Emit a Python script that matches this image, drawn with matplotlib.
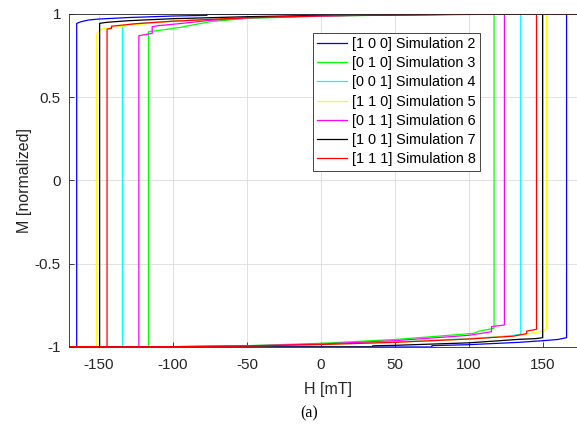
import matplotlib
matplotlib.use('Agg')
import matplotlib.pyplot as plt
from matplotlib.ticker import FormatStrFormatter

plt.rcParams['font.family'] = ['Liberation Sans', 'DejaVu Sans']
plt.rcParams['axes.unicode_minus'] = False

labels = ['[1 0 0] Simulation 2', '[0 1 0] Simulation 3', '[0 0 1] Simulation 4',
          '[1 1 0] Simulation 5', '[0 1 1] Simulation 6', '[1 0 1] Simulation 7',
          '[1 1 1] Simulation 8']
colors = ['#0000ff', '#00ff00', '#00ffff', '#ffff00', '#ff00ff', '#000000', '#ff0000']

# descending branch (H from +max down)
h_dn_100 = [180, -35, -77, -77, -100, -130, -150, -157, -162, -165, -165, -180]
m_dn_100 = [1.0, 0.998, 0.996, 0.990, 0.986, 0.977, 0.968, 0.962, 0.952, 0.942, -1.0, -1.0]
h_dn_010 = [180, 100, 50, 0, -50, -75, -95, -105, -116.5, -116.5, -180]
m_dn_010 = [1.0, 0.997, 0.992, 0.985, 0.972, 0.952, 0.918, 0.905, 0.892, -1.0, -1.0]
h_dn_001 = [180, 100, 50, 0, -50, -100, -120, -128, -134, -134, -180]
m_dn_001 = [1.0, 0.997, 0.994, 0.988, 0.978, 0.955, 0.943, 0.936, 0.922, -1.0, -1.0]
h_dn_110 = [180, 100, 50, 0, -50, -100, -130, -148, -151.5, -151.5, -180]
m_dn_110 = [1.0, 0.997, 0.994, 0.988, 0.976, 0.955, 0.930, 0.908, 0.882, -1.0, -1.0]
h_dn_011 = [180, 100, 50, 0, -50, -75, -96, -110, -114, -114, -123, -123, -180]
m_dn_011 = [1.0, 0.997, 0.993, 0.986, 0.975, 0.960, 0.940, 0.928, 0.922, 0.882, 0.868, -1.0, -1.0]
h_dn_101 = [180, 0, -50, -100, -130, -145, -149.5, -149.5, -180]
m_dn_101 = [1.0, 0.990, 0.982, 0.970, 0.958, 0.948, 0.942, -1.0, -1.0]
h_dn_111 = [180, 100, 50, 0, -50, -100, -125, -141.5, -141.5, -144.5, -144.5, -180]
m_dn_111 = [1.0, 0.997, 0.994, 0.987, 0.976, 0.955, 0.940, 0.925, 0.912, 0.908, -1.0, -1.0]

# ascending branch (H from -max up)
h_up_100 = [-180, 75, 75, 100, 134, 150, 160, 166, 166, 180]
m_up_100 = [-1.0, -1.0, -0.992, -0.986, -0.972, -0.962, -0.955, -0.944, 1.0, 1.0]
h_up_010 = [-180, -100, -50, 0, 50, 75, 103, 107, 117, 117, 180]
m_up_010 = [-1.0, -0.998, -0.992, -0.978, -0.955, -0.938, -0.918, -0.905, -0.888, 1.0, 1.0]
h_up_001 = [-180, -100, -50, 0, 50, 100, 125, 135, 135, 180]
m_up_001 = [-1.0, -0.998, -0.994, -0.985, -0.970, -0.950, -0.935, -0.924, 1.0, 1.0]
h_up_110 = [-180, -100, -50, 0, 50, 100, 135, 148, 152.5, 152.5, 180]
m_up_110 = [-1.0, -0.998, -0.994, -0.985, -0.972, -0.952, -0.930, -0.908, -0.894, 1.0, 1.0]
h_up_011 = [-180, -100, -50, 0, 50, 100, 115.3, 115.3, 124, 124, 180]
m_up_011 = [-1.0, -0.998, -0.993, -0.982, -0.962, -0.930, -0.908, -0.878, -0.868, 1.0, 1.0]
h_up_101 = [-180, 35, 35, 50, 100, 134, 145, 149.8, 149.8, 180]
m_up_101 = [-1.0, -1.0, -0.993, -0.990, -0.975, -0.954, -0.950, -0.944, 1.0, 1.0]
h_up_111 = [-180, -100, -50, 0, 50, 100, 130, 139, 139, 145.7, 145.7, 180]
m_up_111 = [-1.0, -0.998, -0.994, -0.985, -0.972, -0.952, -0.935, -0.920, -0.905, -0.894, 1.0, 1.0]

branches = [
    (h_dn_100, m_dn_100, h_up_100, m_up_100),
    (h_dn_010, m_dn_010, h_up_010, m_up_010),
    (h_dn_001, m_dn_001, h_up_001, m_up_001),
    (h_dn_110, m_dn_110, h_up_110, m_up_110),
    (h_dn_011, m_dn_011, h_up_011, m_up_011),
    (h_dn_101, m_dn_101, h_up_101, m_up_101),
    (h_dn_111, m_dn_111, h_up_111, m_up_111),
]

W, H = 577, 426
fig = plt.figure(figsize=(W / 100, H / 100), dpi=100)
# axes runs a little past the right edge of the picture, like the reference crop
x0, x1 = 69.3, 587.0
ax = fig.add_axes([x0 / W, 79 / H, (x1 - x0) / W, (347 - 13.7) / H])

for (hd, md, hu, mu), c, lab in zip(branches, colors, labels):
    ax.plot(hd + hu, md + mu, color=c, linewidth=0.9, label=lab)

ax.set_xlim(-170, -170 + (x1 - x0) / 1.48)
ax.set_ylim(-1, 1)
ax.set_xticks([-150, -100, -50, 0, 50, 100, 150])
ax.set_yticks([-1, -0.5, 0, 0.5, 1])
ax.yaxis.set_major_formatter(FormatStrFormatter('%g'))
ax.grid(True, color='#dcdcdc', linewidth=0.6)
ax.set_axisbelow(True)
ax.tick_params(direction='in', length=3.5, width=0.6, labelsize=11,
               colors='#262626', top=False, right=False)
ax.tick_params(axis='x', pad=8)
ax.tick_params(axis='y', pad=6)
for s in ax.spines.values():
    s.set_color('#262626')
    s.set_linewidth(0.6)
ax.spines['right'].set_visible(False)

ax.set_xlabel('H [mT]', fontsize=11.5, color='#262626', labelpad=7)
ax.set_ylabel('M [normalized]', fontsize=11.5, color='#262626', labelpad=2)

leg = ax.legend(loc='upper left', bbox_to_anchor=(312.7 / W, 1 - 32.7 / H),
                bbox_transform=fig.transFigure, fontsize=10.4, frameon=True,
                fancybox=False, edgecolor='#262626', framealpha=1,
                borderpad=0.3, labelspacing=0.36, handlelength=2.1,
                handletextpad=0.3, borderaxespad=0)
leg.get_frame().set_linewidth(0.6)

fig.text(309 / W, 1 - 413 / H, '(a)', ha='center', va='center',
         fontsize=11.5, family=['Liberation Serif', 'DejaVu Serif'])

fig.savefig('out.png', dpi=100)
